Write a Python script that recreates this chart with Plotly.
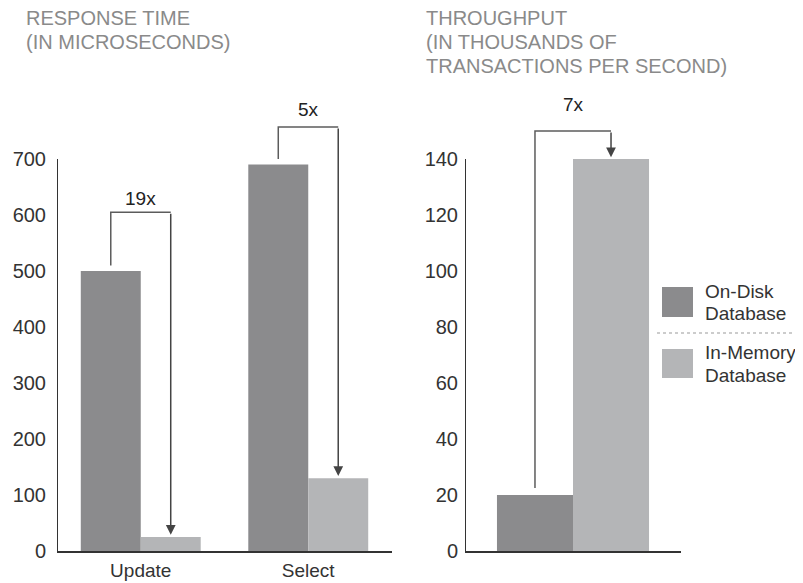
import plotly.graph_objects as go

# ---- data ----
categories = ["Update", "Select"]
resp_on_disk = [500, 690]
resp_in_memory = [25, 130]
thr_category = ["Throughput"]
thr_on_disk = [20]
thr_in_memory = [140]
series_names = [["On-Disk", "Database"], ["In-Memory", "Database"]]
resp_ticks = [0, 100, 200, 300, 400, 500, 600, 700]
thr_ticks = [0, 20, 40, 60, 80, 100, 120, 140]
ratio_labels = ["19x", "5x", "7x"]
bracket_tops = [605, 757, 150]
titles = [["RESPONSE TIME", "(IN MICROSECONDS)"],
          ["THROUGHPUT", "(IN THOUSANDS OF", "TRANSACTIONS PER SECOND)"]]

# ---- style ----
FONT = "Liberation Sans, Arial, Helvetica, sans-serif"
C_DISK = "#8b8b8d"
C_MEM = "#b4b5b7"
AXIS = "#333333"
BRK = "#5c5c5c"
OX, OY = 8, 8            # page (body) margin offset
W, H = 803 - OX, 583 - OY
wl = 0.358   # bar width left (category units)
wr = 0.352   # bar width right


def fx(px):
    return (px - OX) / W


def py(px):
    return (H - (px - OY)) / H


ydom = [py(551), py(103)]

fig = go.Figure()
fig.add_trace(go.Bar(x=categories, y=resp_on_disk, width=wl, offset=-wl,
                     marker=dict(color=C_DISK, line_width=0), xaxis="x", yaxis="y",
                     showlegend=False, name=series_names[0][0]))
fig.add_trace(go.Bar(x=categories, y=resp_in_memory, width=wl, offset=0,
                     marker=dict(color=C_MEM, line_width=0), xaxis="x", yaxis="y",
                     showlegend=False, name=series_names[1][0]))
fig.add_trace(go.Bar(x=thr_category, y=thr_on_disk, width=wr, offset=-wr,
                     marker=dict(color=C_DISK, line_width=0), xaxis="x2", yaxis="y2",
                     showlegend=False, name=series_names[0][0]))
fig.add_trace(go.Bar(x=thr_category, y=thr_in_memory, width=wr, offset=0,
                     marker=dict(color=C_MEM, line_width=0), xaxis="x2", yaxis="y2",
                     showlegend=False, name=series_names[1][0]))

shapes = []
annotations = []

# y axis lines (only up to top tick)
shapes.append(dict(type="line", xref="x", yref="y", x0=-0.5, x1=-0.5, y0=0, y1=resp_ticks[-1],
                   line=dict(color=AXIS, width=2)))
shapes.append(dict(type="line", xref="x2", yref="y2", x0=-0.5, x1=-0.5, y0=0, y1=thr_ticks[-1],
                   line=dict(color=AXIS, width=2)))

# brackets
brackets = [
    ("x", "y", 0, resp_on_disk[0], resp_in_memory[0], wl, 10, 4, 14),
    ("x", "y", 1, resp_on_disk[1], resp_in_memory[1], wl, 10, 4, 18),
    ("x2", "y2", 0, thr_on_disk[0], thr_in_memory[0], wr, 2.5, 0.6, 27),
]
for k, (xr, yr, i, v_from, v_to, w, gap, tipgap, lshift) in enumerate(brackets):
    xl = i - w / 2
    xrt = i + w / 2
    top = bracket_tops[k]
    shapes.append(dict(type="path", xref=xr, yref=yr,
                       path=f"M {xl},{v_from + gap} L {xl},{top} L {xrt},{top}",
                       line=dict(color=BRK, width=1.5)))
    annotations.append(dict(xref=xr, yref=yr, axref=xr, ayref=yr,
                            x=xrt, y=v_to + tipgap, ax=xrt, ay=top, text="",
                            showarrow=True, arrowhead=2, arrowsize=1.3, arrowwidth=1.5,
                            arrowcolor="#444444"))
    annotations.append(dict(xref=xr, yref=yr, x=i, y=top, text=ratio_labels[k],
                            showarrow=False, yanchor="middle", yshift=lshift,
                            font=dict(family=FONT, size=19, color="#222222")))

# titles (one annotation per line)
for t, x0 in zip(titles, [24, 424]):
    for n, line in enumerate(t):
        annotations.append(dict(xref="paper", yref="paper", x=fx(x0), y=py(18 + 24 * n),
                                xanchor="left", yanchor="middle", text=line, showarrow=False,
                                font=dict(family=FONT, size=20, color="#8a8a8a")))

# legend (manual)
leg = [(C_DISK, 287, 317, [292, 313]), (C_MEM, 349, 378, [352, 375])]
for j, (col, yt, yb, ys) in enumerate(leg):
    shapes.append(dict(type="rect", xref="paper", yref="paper", x0=fx(662), x1=fx(693),
                       y0=py(yb), y1=py(yt), fillcolor=col, line_width=0))
    for line, yc in zip(series_names[j], ys):
        annotations.append(dict(xref="paper", yref="paper", x=fx(703), y=py(yc),
                                xanchor="left", yanchor="middle", text=line, showarrow=False,
                                font=dict(family=FONT, size=19, color="#333333")))
shapes.append(dict(type="line", xref="paper", yref="paper", x0=fx(657), x1=1.0,
                   y0=py(333), y1=py(333),
                   line=dict(color="#999999", width=1, dash="dot")))

fig.update_layout(
    width=W, height=H,
    margin=dict(l=0, r=0, t=0, b=0, pad=0, autoexpand=False),
    paper_bgcolor="white", plot_bgcolor="white",
    barmode="overlay",
    showlegend=False,
    font=dict(family=FONT, size=18, color="#333333"),
    xaxis=dict(domain=[fx(57), fx(392)], range=[-0.5, 1.5], showline=True, linecolor=AXIS,
               linewidth=2, showgrid=False, zeroline=False, ticks="", ticklabelstandoff=1,
               automargin=False,
               tickfont=dict(family=FONT, size=19, color="#333333"), anchor="y"),
    yaxis=dict(domain=ydom, range=[0, 800], showline=False, showgrid=False, zeroline=False,
               tickvals=resp_ticks, ticks="", ticklabelstandoff=10, automargin=False,
               tickfont=dict(family=FONT, size=20, color="#333333"), anchor="x"),
    xaxis2=dict(domain=[fx(465), fx(681)], range=[-0.5, 0.5], showline=True, linecolor=AXIS,
                linewidth=2, showgrid=False, zeroline=False, showticklabels=False, ticks="",
                automargin=False, anchor="y2"),
    yaxis2=dict(domain=ydom, range=[0, 160], showline=False, showgrid=False, zeroline=False,
                tickvals=thr_ticks, ticks="", ticklabelstandoff=6, automargin=False,
                tickfont=dict(family=FONT, size=20, color="#333333"), anchor="x2"),
    shapes=shapes,
    annotations=annotations,
)

fig.write_html("out.html")
